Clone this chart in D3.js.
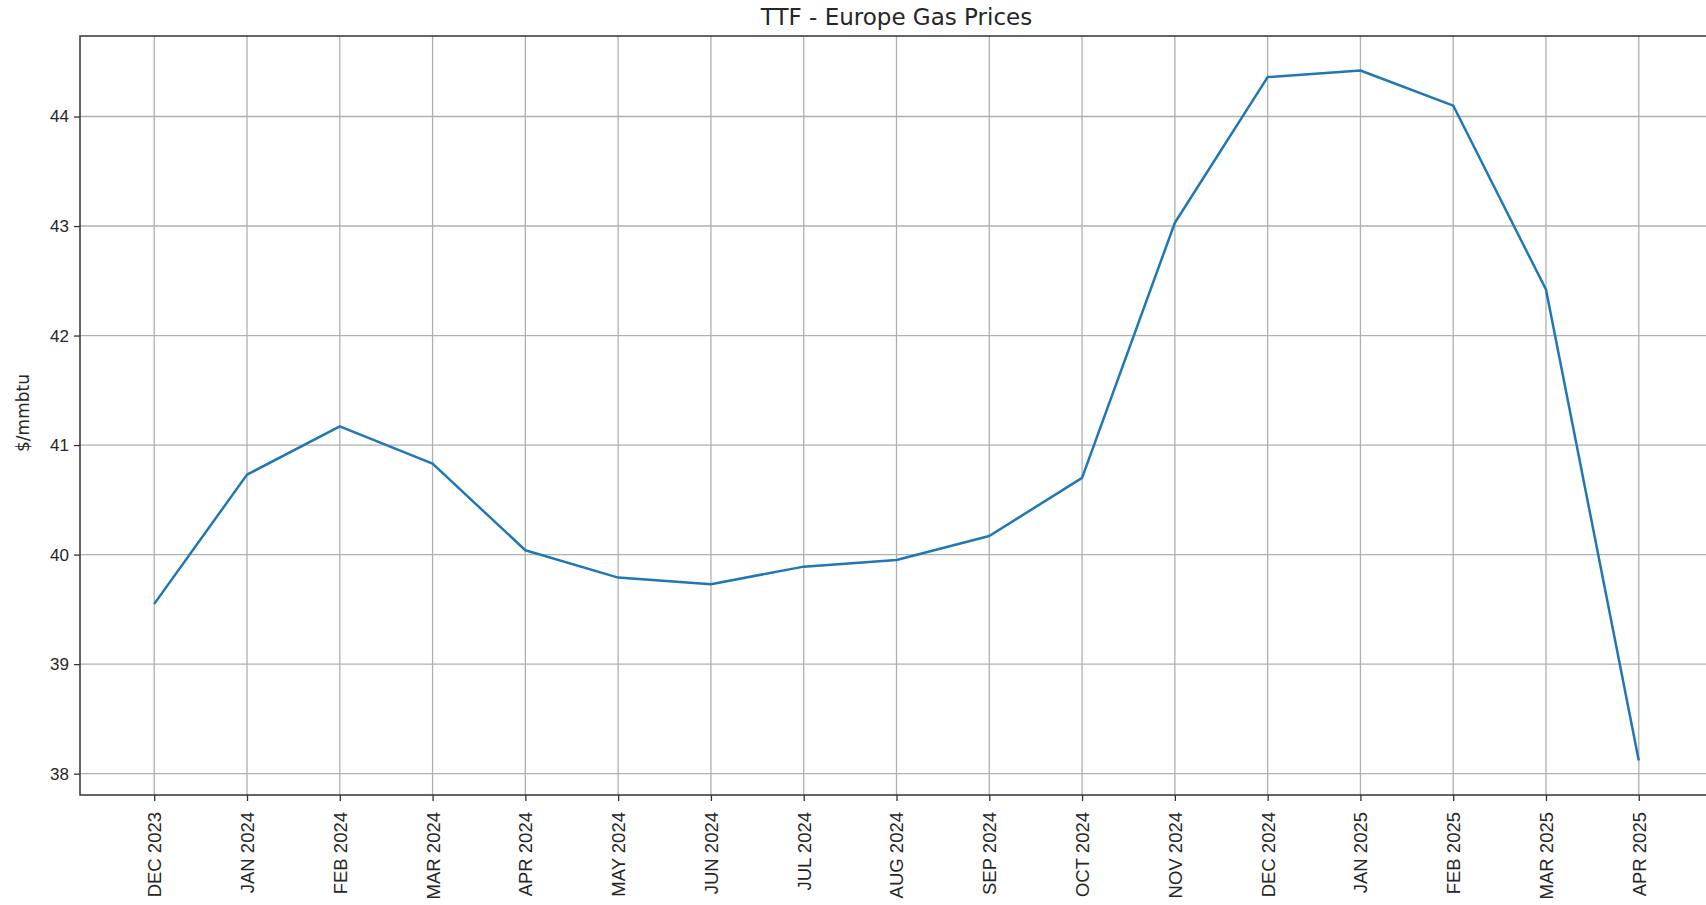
<!DOCTYPE html>
<html>
<head>
<meta charset="utf-8">
<script src="https://cdn.jsdelivr.net/npm/d3@7"></script>
<style>
	body { margin: 0; background: #fff; }
	svg { display: block; font-family: "DejaVu Sans", sans-serif; }
</style>
</head>
<body>
<div id="chart"></div>
<script>
var months = ["DEC 2023", "JAN 2024", "FEB 2024", "MAR 2024", "APR 2024", "MAY 2024", "JUN 2024",
	"JUL 2024", "AUG 2024", "SEP 2024", "OCT 2024", "NOV 2024", "DEC 2024", "JAN 2025",
	"FEB 2025", "MAR 2025", "APR 2025"]
var prices = [39.55, 40.73, 41.17, 40.83, 40.04, 39.79, 39.73, 39.89, 39.95, 40.17, 40.70,
	43.03, 44.36, 44.42, 44.10, 42.42, 38.12]
var y_ticks = [38, 39, 40, 41, 42, 43, 44]

var width = 1706
var height = 905
// plot box (right edge runs past the picture, like the reference)
var plot_left = 80, plot_right = 1713, plot_top = 36, plot_bottom = 795

var svg = d3.select("#chart")
			.append("svg")
			.attr("width", width)
			.attr("height", height)

var x = d3.scalePoint()
		.domain(months)
		.range([plot_left, plot_right])
		.padding(0.8)

// matplotlib style 5% margin on the y range
var lo = d3.min(prices), hi = d3.max(prices)
var pad = (hi - lo) * 0.05
var y = d3.scaleLinear()
		.domain([lo - pad, hi + pad])
		.range([plot_bottom, plot_top])

// grid
svg.append("g")
	.selectAll("line")
	.data(months)
	.enter().append("line")
	.attr("x1", function(d) { return x(d) })
	.attr("x2", function(d) { return x(d) })
	.attr("y1", plot_top)
	.attr("y2", plot_bottom)
	.attr("stroke", "#b0b0b0")
	.attr("stroke-width", 1.3)

svg.append("g")
	.selectAll("line")
	.data(y_ticks)
	.enter().append("line")
	.attr("x1", plot_left)
	.attr("x2", plot_right)
	.attr("y1", function(d) { return y(d) })
	.attr("y2", function(d) { return y(d) })
	.attr("stroke", "#b0b0b0")
	.attr("stroke-width", 1.3)

// axes
var x_axis = svg.append("g")
	.attr("transform", "translate(0," + plot_bottom + ")")
	.call(d3.axisBottom(x).tickSize(6).tickSizeOuter(0))
x_axis.select(".domain").remove()
x_axis.selectAll("line").attr("stroke", "#333").attr("stroke-width", 1.3)
x_axis.selectAll("text")
	.attr("font-size", 18.5)
	.attr("fill", "#262626")
	.attr("text-anchor", "end")
	.attr("transform", "rotate(-90)")
	.attr("x", -17)
	.attr("y", 0)
	.attr("dy", "0.35em")

var y_axis = svg.append("g")
	.attr("transform", "translate(" + plot_left + ",0)")
	.call(d3.axisLeft(y).tickValues(y_ticks).tickFormat(d3.format("d")).tickSize(6))
y_axis.select(".domain").remove()
y_axis.selectAll("line").attr("stroke", "#333").attr("stroke-width", 1.3)
y_axis.selectAll("text")
	.attr("font-size", 17)
	.attr("fill", "#262626")
	.attr("x", -11)

// frame
svg.append("rect")
	.attr("x", plot_left)
	.attr("y", plot_top)
	.attr("width", plot_right - plot_left)
	.attr("height", plot_bottom - plot_top)
	.attr("fill", "none")
	.attr("stroke", "#333")
	.attr("stroke-width", 1.5)

// price line
var line = d3.line()
	.x(function(d, i) { return x(months[i]) })
	.y(function(d) { return y(d) })

svg.append("path")
	.datum(prices)
	.attr("d", line)
	.attr("fill", "none")
	.attr("stroke", "#1f77b4")
	.attr("stroke-width", 2.5)
	.attr("stroke-linejoin", "round")

svg.append("text")
	.attr("x", (plot_left + plot_right) / 2)
	.attr("y", 25)
	.attr("text-anchor", "middle")
	.attr("font-size", 23)
	.attr("fill", "#262626")
	.text("TTF - Europe Gas Prices")

svg.append("text")
	.attr("transform", "translate(29,413) rotate(-90)")
	.attr("text-anchor", "middle")
	.attr("font-size", 17)
	.attr("fill", "#262626")
	.text("$/mmbtu")
</script>
</body>
</html>
